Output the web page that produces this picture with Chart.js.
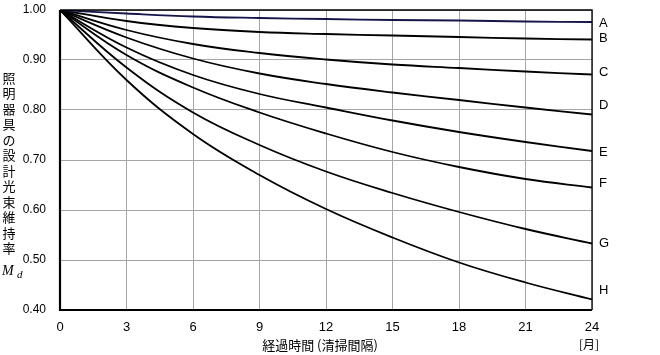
<!DOCTYPE html>
<html><head><meta charset="utf-8">
<script src="https://cdn.jsdelivr.net/npm/chart.js@4/dist/chart.umd.min.js"></script>
<style>html,body{margin:0;padding:0;background:#fff}#wrap{position:relative;width:660px;height:355px}</style>
</head><body><div id="wrap"><canvas id="c" width="660" height="355"></canvas></div>
<script>
const months = [0, 3, 6, 9, 12, 15, 18, 21, 24];
const seriesNames = ['A','B','C','D','E','F','G','H'];
const seriesA = [1.00, 0.993, 0.987, 0.984, 0.982, 0.980, 0.979, 0.977, 0.976];
const seriesB = [1.00, 0.978, 0.964, 0.956, 0.952, 0.949, 0.946, 0.943, 0.941];
const seriesC = [1.00, 0.960, 0.932, 0.914, 0.901, 0.891, 0.884, 0.877, 0.871];
const seriesD = [1.00, 0.945, 0.903, 0.873, 0.852, 0.835, 0.820, 0.805, 0.791];
const seriesE = [1.00, 0.925, 0.870, 0.832, 0.805, 0.779, 0.756, 0.736, 0.718];
const seriesF = [1.00, 0.910, 0.845, 0.795, 0.753, 0.716, 0.686, 0.662, 0.645];
const seriesG = [1.00, 0.885, 0.795, 0.730, 0.677, 0.634, 0.596, 0.562, 0.533];
const seriesH = [1.00, 0.860, 0.752, 0.670, 0.602, 0.545, 0.495, 0.455, 0.421];
const allSeries = [seriesA, seriesB, seriesC, seriesD, seriesE, seriesF, seriesG, seriesH];
const yTickValues = [0.40, 0.50, 0.60, 0.70, 0.80, 0.90, 1.00];
const xTickValues = [0, 3, 6, 9, 12, 15, 18, 21, 24];
const yTitleChars = ['照','明','器','具','の','設','計','光','束','維','持','率'];
const xTitle = '経過時間 (清掃間隔)';
const xUnit = '[月]';

// style only
const labelOffsetPx = [1, -1, -2, -9, 1, -4, 0, -9];
const lineColors = ['#15154a','#000','#000','#000','#000','#000','#000','#000'];

const datasets = allSeries.map((s, i) => ({
  label: seriesNames[i],
  data: s.map((v, j) => ({x: months[j], y: v})),
  borderColor: lineColors[i],
  borderWidth: 1.8,
  pointRadius: 0,
  fill: false,
  tension: 0.4
}));

const overlay = {
  id: 'overlay',
  afterDraw(chart) {
    const ctx = chart.ctx, a = chart.chartArea;
    const ys = chart.scales.y;
    ctx.save();
    ctx.strokeStyle = '#000';
    ctx.lineWidth = 1.3;
    ctx.beginPath();
    ctx.moveTo(a.left, a.top); ctx.lineTo(a.right, a.top); ctx.lineTo(a.right, a.bottom);
    ctx.stroke();
    ctx.lineWidth = 2.2;
    ctx.beginPath();
    ctx.moveTo(a.left, a.top); ctx.lineTo(a.left, a.bottom); ctx.lineTo(a.right, a.bottom);
    ctx.stroke();
    ctx.fillStyle = '#000';
    ctx.font = '13px "Liberation Sans Narrow", "Liberation Sans", Arial, sans-serif';
    ctx.textAlign = 'left';
    ctx.textBaseline = 'middle';
    allSeries.forEach((s, i) => {
      const y = ys.getPixelForValue(s[s.length - 1]) + labelOffsetPx[i];
      ctx.fillText(seriesNames[i], a.right + 7, y);
    });
    ctx.font = '13px "Noto Sans CJK JP", sans-serif';
    ctx.textAlign = 'center';
    yTitleChars.forEach((ch, i) => {
      ctx.fillText(ch, 9, 78 + i * 15.5);
    });
    ctx.font = 'italic 14px "Liberation Serif", "DejaVu Serif", serif';
    ctx.textAlign = 'left';
    ctx.fillText('M', 2, 271);
    ctx.font = 'italic 11px "Liberation Serif", "DejaVu Serif", serif';
    ctx.fillText('d', 17, 275);
    ctx.font = '13px "Noto Sans CJK JP", sans-serif';
    ctx.textAlign = 'center';
    ctx.fillText(xTitle, 320, 345);
    ctx.font = '12px "Noto Sans CJK JP", sans-serif';
    ctx.fillText(xUnit, 589, 344);
    ctx.restore();
  }
};

new Chart(document.getElementById('c'), {
  type: 'line',
  data: {datasets},
  options: {
    responsive: false,
    animation: false,
    devicePixelRatio: 1,
    layout: {padding: {left: 0, right: 68, top: 10, bottom: 0}},
    plugins: {legend: {display: false}, tooltip: {enabled: false}},
    scales: {
      x: {
        type: 'linear', min: 0, max: 24,
        afterBuildTicks: s => { s.ticks = xTickValues.map(v => ({value: v})); },
        afterFit: s => { s.height = 45; s.paddingLeft = 0; s.paddingRight = 0; },
        grid: {color: '#a6a6a6', lineWidth: 1, drawTicks: false},
        border: {display: false},
        ticks: {
          padding: 10, color: '#000', maxRotation: 0,
          font: {family: '"Liberation Sans Narrow", "Liberation Sans", Arial', size: 13},
          callback: v => String(v)
        }
      },
      y: {
        type: 'linear', min: 0.4, max: 1.0,
        afterBuildTicks: s => { s.ticks = yTickValues.map(v => ({value: v})); },
        afterFit: s => { s.width = 60; s.paddingTop = 0; s.paddingBottom = 0; },
        grid: {color: '#a6a6a6', lineWidth: 1, drawTicks: false},
        border: {display: false},
        ticks: {
          padding: 14, color: '#000',
          font: {family: '"Liberation Sans", Arial', size: 12},
          callback: v => Number(v).toFixed(2)
        }
      }
    }
  },
  plugins: [overlay]
});
</script></body></html>
